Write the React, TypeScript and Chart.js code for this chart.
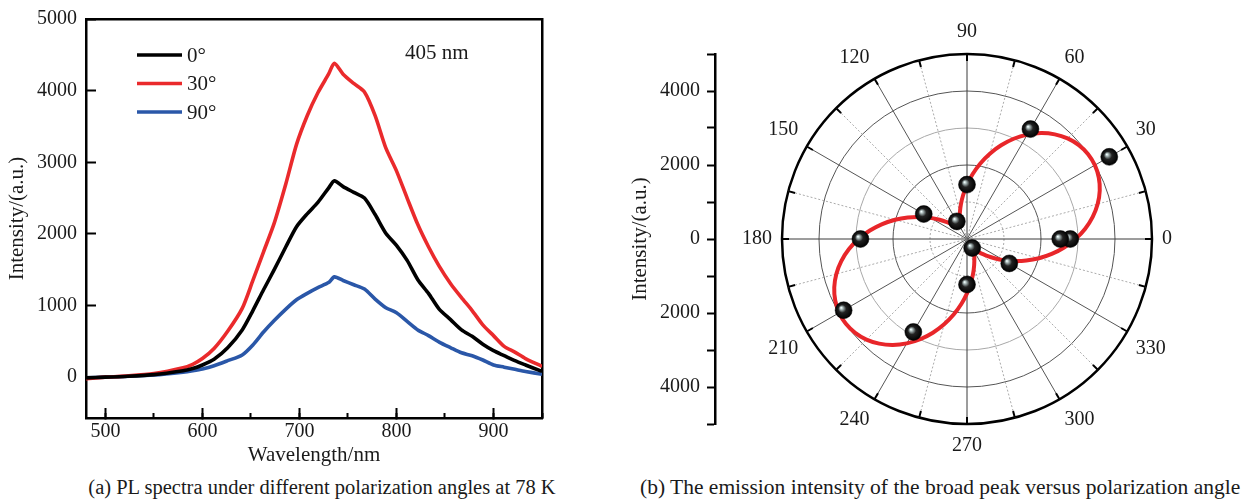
import React, { useEffect, useRef } from 'react';
import { Chart, registerables } from 'chart.js';
Chart.register(...registerables);

const FONT_FAMILY = "'Liberation Serif', 'Times New Roman', serif";
const TEXT_COLOR = '#1a1a1a';

// ---------- Panel (a): PL spectra ----------
const WAVELENGTHS = [480, 500, 520, 550, 580, 590, 600, 612, 626, 641, 652, 663, 674, 686, 697, 708, 719, 730, 736, 745, 756, 767, 778, 789, 800, 811, 822, 833, 844, 856, 867, 878, 889, 900, 911, 922, 933, 950];
const PL_0 = [-10, 0, 10, 35, 90, 120, 170, 250, 410, 660, 930, 1220, 1500, 1820, 2100, 2280, 2440, 2640, 2740, 2660, 2580, 2500, 2270, 2010, 1840, 1630, 1360, 1170, 950, 800, 660, 570, 460, 370, 300, 230, 170, 80];
const PL_30 = [-20, 0, 15, 50, 130, 180, 260, 400, 640, 960, 1350, 1750, 2150, 2700, 3250, 3650, 3970, 4230, 4380, 4230, 4100, 3980, 3650, 3200, 2880, 2500, 2130, 1820, 1550, 1300, 1110, 930, 730, 580, 430, 350, 260, 150];
const PL_90 = [-10, 0, 10, 30, 70, 90, 115, 160, 230, 310, 450, 630, 790, 950, 1080, 1170, 1250, 1320, 1400, 1350, 1290, 1230, 1090, 970, 900, 780, 660, 580, 490, 410, 340, 300, 240, 170, 140, 110, 80, 40];
const SERIES_LABELS = ['0°', '30°', '90°'];
const SERIES_COLORS = ['#000000', '#ea2a2c', '#2a57a8'];
const X_TICKS = [500, 600, 700, 800, 900];
const X_MINOR_TICKS = [500, 550, 600, 650, 700, 750, 800, 850, 900, 950];
const Y_TICKS = [0, 1000, 2000, 3000, 4000, 5000];

// ---------- Panel (b): polar plot ----------
const POINT_ANGLES = [0, 30, 60, 90, 120, 150, 180, 210, 240, 270, 300, 330, 360];
const POINT_VALUES = [2520, 4440, 3430, 1470, 550, 1350, 2880, 3850, 2900, 1230, 280, 1320, 2790];
const FIT_ANGLES = [0, 5, 10, 15, 20, 25, 30, 35, 40, 45, 50, 55, 60, 65, 70, 75, 80, 85, 90, 95, 100, 105, 110, 115, 120, 125, 130, 135, 140, 145, 150, 155, 160, 165, 170, 175,
  180, 185, 190, 195, 200, 205, 210, 215, 220, 225, 230, 235, 240, 245, 250, 255, 260, 265, 270, 275, 280, 285, 290, 295, 300, 305, 310, 315, 320, 325, 330, 335, 340, 345, 350, 355];
const FIT_VALUES = [2932, 3207, 3450, 3656, 3818, 3930, 3990, 3996, 3946, 3844, 3692, 3495, 3258, 2989, 2696, 2388, 2074, 1764, 1468, 1193, 950, 744, 582, 470, 410, 404, 454, 556, 708, 905, 1142, 1411, 1704, 2012, 2326, 2635,
  2932, 3207, 3450, 3656, 3818, 3930, 3990, 3996, 3946, 3844, 3692, 3495, 3258, 2989, 2696, 2388, 2074, 1764, 1468, 1193, 950, 744, 582, 470, 410, 404, 454, 556, 708, 905, 1142, 1411, 1704, 2012, 2326, 2635];
const ANGLE_STEP = 5;
const R_MAX = 5000;
const R_STEP = 1000;
const POLAR_Y_TICKS = [-5000, -4000, -3000, -2000, -1000, 0, 1000, 2000, 3000, 4000, 5000];
const POLAR_Y_LABELS = ['', '4000', '', '2000', '', '0', '', '2000', '', '4000', ''];

const font = (size = 20) => ({ family: FONT_FAMILY, size });
const setTicks = (values: number[]) => (s: any) => { s.ticks = values.map((v) => ({ value: v })); };

function SpectraChart() {
  const ref = useRef<HTMLCanvasElement>(null);
  useEffect(() => {
    const series = [PL_0, PL_30, PL_90];
    const legendPlugin = {
      id: 'insideLegend',
      afterDatasetsDraw(chart: any) {
        const { ctx, chartArea } = chart;
        ctx.save();
        ctx.font = `21px ${FONT_FAMILY}`;
        ctx.textBaseline = 'middle';
        ctx.textAlign = 'left';
        chart.data.datasets.forEach((ds: any, i: number) => {
          const y = chartArea.top + 36 + i * 28.5;
          const x0 = chartArea.left + 51;
          ctx.strokeStyle = ds.borderColor;
          ctx.lineWidth = 3.5;
          ctx.beginPath();
          ctx.moveTo(x0, y);
          ctx.lineTo(x0 + 45, y);
          ctx.stroke();
          ctx.fillStyle = TEXT_COLOR;
          ctx.fillText(ds.label, x0 + 50, y + 1);
        });
        ctx.fillText('405 nm', chartArea.left + 319, chartArea.top + 34);
        ctx.restore();
      },
    };
    const chart = new Chart(ref.current as HTMLCanvasElement, {
      type: 'line',
      data: {
        datasets: series.map((s, k) => ({
          label: SERIES_LABELS[k],
          data: WAVELENGTHS.map((x, i) => ({ x, y: s[i] })),
          borderColor: SERIES_COLORS[k],
          backgroundColor: SERIES_COLORS[k],
          borderWidth: 3.6,
          pointRadius: 0,
          tension: 0.25,
          xAxisID: 'x',
          yAxisID: 'y',
        })),
      },
      options: {
        responsive: false,
        animation: false,
        layout: { padding: { left: 0, top: 19, right: 38, bottom: 0 } },
        plugins: { legend: { display: false }, tooltip: { enabled: false } },
        scales: {
          x: {
            type: 'linear', position: 'bottom', min: 480, max: 950, weight: 0,
            afterBuildTicks: setTicks(X_TICKS),
            ticks: { padding: 12, font: font(20), color: TEXT_COLOR, autoSkip: false, maxRotation: 0, callback: (v: any) => String(v) },
            grid: { drawOnChartArea: false, drawTicks: true, tickLength: -10, tickWidth: 2, tickColor: '#000' },
            border: { display: true, color: '#000', width: 2.5 },
            title: { display: true, text: 'Wavelength/nm', font: font(21), color: TEXT_COLOR, padding: { top: 0, bottom: 2.4 } },
            afterFit: (s: any) => { s.height = 52; s.paddingLeft = 0; s.paddingRight = 0; },
          },
          xMinor: {
            type: 'linear', position: 'bottom', min: 480, max: 950, weight: -1,
            afterBuildTicks: setTicks(X_MINOR_TICKS),
            ticks: { display: false, autoSkip: false },
            grid: { drawOnChartArea: false, drawTicks: true, tickLength: -5, tickWidth: 2, tickColor: '#000' },
            border: { display: false },
            afterFit: (s: any) => { s.height = 0; s.paddingLeft = 0; s.paddingRight = 0; },
          },
          xTop: {
            type: 'linear', position: 'top', min: 480, max: 950,
            ticks: { display: false },
            grid: { drawOnChartArea: false, drawTicks: false },
            border: { display: true, color: '#000', width: 2.5 },
            afterFit: (s: any) => { s.height = 0; s.paddingLeft = 0; s.paddingRight = 0; },
          },
          y: {
            type: 'linear', position: 'left', min: -570, max: 5000,
            afterBuildTicks: setTicks(Y_TICKS),
            ticks: { padding: 19, font: font(20), color: TEXT_COLOR, autoSkip: false, callback: (v: any) => String(v) },
            grid: { drawOnChartArea: false, drawTicks: true, tickLength: -10, tickWidth: 2, tickColor: '#000' },
            border: { display: true, color: '#000', width: 2.5 },
            title: { display: true, text: 'Intensity/(a.u.)', font: font(21), color: TEXT_COLOR, padding: { top: 4.4, bottom: 0 } },
            afterFit: (s: any) => { s.width = 86; s.paddingTop = 0; s.paddingBottom = 0; },
          },
          yRight: {
            type: 'linear', position: 'right', min: -570, max: 5000,
            ticks: { display: false },
            grid: { drawOnChartArea: false, drawTicks: false },
            border: { display: true, color: '#000', width: 2.5 },
            afterFit: (s: any) => { s.width = 0; s.paddingTop = 0; s.paddingBottom = 0; },
          },
        },
      } as any,
      plugins: [legendPlugin],
    });
    return () => chart.destroy();
  }, []);
  return <canvas ref={ref} width={580} height={470} style={{ position: 'absolute', left: 0, top: 0 }} />;
}

function PolarAxisChart() {
  const ref = useRef<HTMLCanvasElement>(null);
  useEffect(() => {
    const chart = new Chart(ref.current as HTMLCanvasElement, {
      type: 'line',
      data: { datasets: [] },
      options: {
        responsive: false,
        animation: false,
        layout: { padding: { left: 0, top: 54, right: 0, bottom: 46 } },
        plugins: { legend: { display: false }, tooltip: { enabled: false } },
        scales: {
          x: { type: 'linear', display: false, min: 0, max: 1 },
          y: {
            type: 'linear', position: 'left', min: -R_MAX, max: R_MAX,
            afterBuildTicks: setTicks(POLAR_Y_TICKS),
            ticks: {
              padding: 7, font: font(20), color: TEXT_COLOR, autoSkip: false,
              callback: (v: any, i: number) => POLAR_Y_LABELS[i],
            },
            grid: { drawOnChartArea: false, drawTicks: true, tickLength: 8, tickWidth: 2, tickColor: '#000' },
            border: { display: true, color: '#000', width: 2.5 },
            title: { display: true, text: 'Intensity/(a.u.)', font: font(21), color: TEXT_COLOR, padding: { top: 7.4, bottom: 0 } },
            afterFit: (s: any) => { s.width = 95; s.paddingTop = 0; s.paddingBottom = 0; },
          },
        },
      } as any,
    });
    return () => chart.destroy();
  }, []);
  return <canvas ref={ref} width={100} height={470} style={{ position: 'absolute', left: 620, top: 0 }} />;
}

function PolarChart() {
  const ref = useRef<HTMLCanvasElement>(null);
  useEffect(() => {
    const n = 360 / ANGLE_STEP;
    const angleAt = (i: number) => (360 - i * ANGLE_STEP) % 360;
    const labels = Array.from({ length: n }, (_, i) => String(angleAt(i)));
    const fitData = labels.map((_, i) => FIT_VALUES[FIT_ANGLES.indexOf(angleAt(i))]);
    const pointsData = labels.map((_, i) => {
      const k = POINT_ANGLES.indexOf(angleAt(i));
      return k >= 0 ? POINT_VALUES[k] : null;
    });
    const points360 = labels.map((_, i) => (angleAt(i) === 0 ? POINT_VALUES[POINT_ANGLES.indexOf(360)] : null));

    const sphere = (c: any) => {
      const chart = c.chart;
      const scale = chart.scales && chart.scales.r;
      if (c.type !== 'data' || c.raw == null || !scale) return '#000';
      const p = scale.getPointPositionForValue(c.dataIndex, c.raw);
      if (!isFinite(p.x) || !isFinite(p.y)) return '#000';
      const g = chart.ctx.createRadialGradient(p.x - 2.5, p.y - 2.5, 0.3, p.x, p.y, 8.5);
      g.addColorStop(0, '#f2ffff');
      g.addColorStop(0.18, '#9aa8a8');
      g.addColorStop(0.45, '#222');
      g.addColorStop(1, '#000');
      return g;
    };
    const pointDataset = (data: any[]) => ({
      data,
      showLine: false,
      borderWidth: 0,
      borderColor: 'rgba(0,0,0,0)',
      backgroundColor: 'rgba(0,0,0,0)',
      fill: false,
      pointRadius: 8.5,
      pointBorderWidth: 0.5,
      pointBorderColor: '#000',
      pointBackgroundColor: sphere,
      spanGaps: true,
    });

    const ringTicks = {
      id: 'ringTicks',
      beforeDatasetsDraw(chart: any) {
        const s = chart.scales.r;
        const ctx = chart.ctx;
        ctx.save();
        ctx.strokeStyle = '#000';
        ctx.lineWidth = 2;
        for (let i = 0; i < chart.data.labels.length; i++) {
          if (angleAt(i) % 15 !== 0) continue;
          const p1 = s.getPointPosition(i, s.drawingArea);
          const p2 = s.getPointPosition(i, s.drawingArea - 7);
          ctx.beginPath();
          ctx.moveTo(p1.x, p1.y);
          ctx.lineTo(p2.x, p2.y);
          ctx.stroke();
        }
        ctx.restore();
      },
    };

    const chart = new Chart(ref.current as HTMLCanvasElement, {
      type: 'radar',
      data: {
        labels,
        datasets: [
          pointDataset(pointsData),
          pointDataset(points360),
          {
            data: fitData,
            borderColor: '#e8262a',
            backgroundColor: 'rgba(0,0,0,0)',
            borderWidth: 4,
            pointRadius: 0,
            fill: false,
            tension: 0.2,
          },
        ],
      },
      options: {
        responsive: false,
        animation: false,
        layout: { padding: 0 },
        plugins: { legend: { display: false }, tooltip: { enabled: false } },
        scales: {
          r: {
            min: 0, max: R_MAX, startAngle: 90,
            ticks: { display: false, stepSize: R_STEP },
            grid: {
              circular: true,
              color: (c: any) => (c.tick.value === R_MAX ? '#000' : c.tick.value % 2000 === 0 ? '#555' : '#a8a8a8'),
              lineWidth: (c: any) => (c.tick.value === R_MAX ? 2.5 : 1),
            },
            border: { dash: (c: any) => (c.tick && c.tick.value === 1000 ? [2, 2] : []) },
            angleLines: {
              display: true,
              color: (c: any) => { const a = angleAt(c.index); return a % 90 === 0 ? '#3a3a3a' : a % 30 === 0 ? '#555' : '#aaa'; },
              lineWidth: (c: any) => (angleAt(c.index) % 15 === 0 ? 1 : 0),
              borderDash: (c: any) => (angleAt(c.index) % 30 === 0 ? [] : [2, 2]),
            },
            pointLabels: {
              display: true, padding: 10, font: font(20), color: TEXT_COLOR,
              callback: (label: string, index: number) => (angleAt(index) % 30 === 0 ? label : ''),
            },
          },
        },
      } as any,
      plugins: [ringTicks],
    });
    return () => chart.destroy();
  }, []);
  return <canvas ref={ref} width={450} height={450} style={{ position: 'absolute', left: 732, top: 14 }} />;
}

export default function App() {
  const caption: React.CSSProperties = {
    position: 'absolute', top: 475, height: 24, lineHeight: '24px', fontFamily: FONT_FAMILY,
    color: TEXT_COLOR, textAlign: 'center', whiteSpace: 'nowrap',
  };
  return (
    <div style={{ position: 'absolute', left: 0, top: 0, width: 1246, height: 500, background: '#fff', overflow: 'hidden' }}>
      <SpectraChart />
      <PolarAxisChart />
      <PolarChart />
      <div style={{ ...caption, left: 0, width: 644, fontSize: 20.5 }}>(a) PL spectra under different polarization angles at 78 K</div>
      <div style={{ ...caption, left: 640, width: 600, fontSize: 21.5 }}>(b) The emission intensity of the broad peak versus polarization angle</div>
    </div>
  );
}
